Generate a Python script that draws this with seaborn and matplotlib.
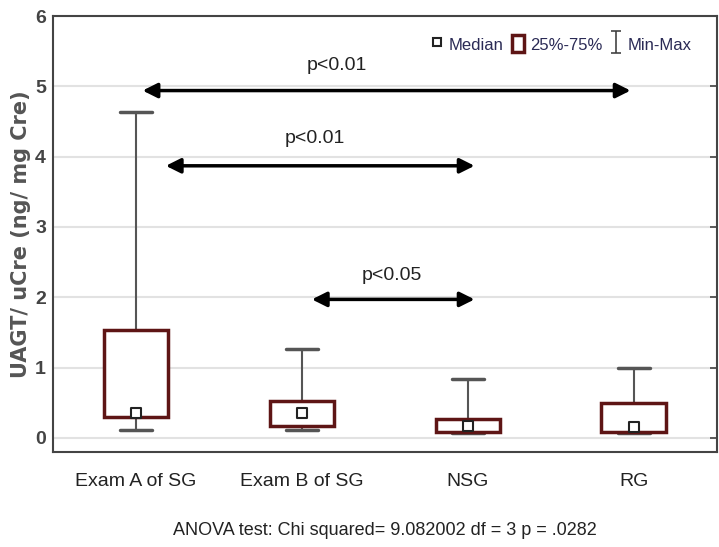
import matplotlib
matplotlib.use('Agg')
import matplotlib.pyplot as plt
from matplotlib.lines import Line2D
from matplotlib.patches import Rectangle
from matplotlib.path import Path
import numpy as np
import pandas as pd
import seaborn as sns


## data ##
groups = ['Exam A of SG', 'Exam B of SG', 'NSG', 'RG']
mins    = [0.11, 0.11, 0.07, 0.07]
q1s     = [0.30, 0.17, 0.09, 0.09]
medians = [0.36, 0.36, 0.17, 0.16]
q3s     = [1.54, 0.53, 0.27, 0.49]
maxs    = [4.64, 1.27, 0.84, 0.99]

# pairwise comparisons: arrow span, level, label and label position
comp_from  = [0.04, 0.18, 1.06]
comp_to    = [2.98, 2.04, 2.04]
comp_y     = [4.94, 3.87, 1.97]
comp_text  = ['p<0.01', 'p<0.01', 'p<0.05']
comp_tx    = [1.21, 1.08, 1.54]
comp_ty    = [5.29, 4.26, 2.31]

anova_text = 'ANOVA test: Chi squared= 9.082002 df = 3 p = .0282'


## plotting params ##
sns.set_style('white')
plt.rcParams['font.family'] = ['Liberation Sans', 'DejaVu Sans']
box_col = '#5e1515'
whisk_col = '#555555'

# five numbers per group -> percentiles of 5 points fall on them exactly
df = pd.DataFrame({
    'group': np.repeat(groups, 5),
    'value': np.ravel(np.column_stack([mins, q1s, medians, q3s, maxs])),
})

fig = plt.figure(figsize=(7.19, 5.47), dpi=100)
ax = fig.add_axes([0.0737, 0.1737, 0.9233, 0.797])

sns.boxplot(data=df, x='group', y='value', order=groups, whis=(0, 100),
            width=0.39, color='white', linecolor=box_col, linewidth=2.5,
            showfliers=False, ax=ax,
            boxprops={'edgecolor': box_col, 'linewidth': 2.5, 'zorder': 3},
            whiskerprops={'color': whisk_col, 'linewidth': 1.5, 'zorder': 2},
            capprops={'color': whisk_col, 'linewidth': 2.5, 'zorder': 2},
            medianprops={'linewidth': 0})

sns.stripplot(x=groups, y=medians, order=groups, jitter=False, marker='s',
              size=6.5, color='white', edgecolor='#222222', linewidth=1.5,
              zorder=5, ax=ax)

for x0, x1, y in zip(comp_from, comp_to, comp_y):
    ax.annotate('', xy=(x1, y), xytext=(x0, y),
                arrowprops=dict(arrowstyle='<|-|>', color='black', lw=2.5,
                                mutation_scale=22, shrinkA=0, shrinkB=0))
for t, tx, ty in zip(comp_text, comp_tx, comp_ty):
    ax.text(tx, ty, t, ha='center', va='center', fontsize=14, color='#222222')

ax.set_xlim(-0.5, 3.5)
ax.set_ylim(-0.2, 6.0)
ax.set_yticks(range(0, 7))
ax.yaxis.grid(True, color='#e2e2e2', linewidth=1.5)
ax.set_axisbelow(True)
for s in ax.spines.values():
    s.set_color('#444444')
    s.set_linewidth(1.5)
ax.tick_params(axis='both', direction='in', length=5, width=1.2, color='#444444')
ax.tick_params(axis='y', right=True, labelsize=14, labelcolor='#444444', pad=5)
ax.tick_params(axis='x', labelsize=14, labelcolor='#222222', pad=15)
for lab in ax.get_yticklabels():
    lab.set_fontweight('bold')

ax.set_ylabel('UAGT/ uCre (ng/ mg Cre)', fontsize=15, fontweight='bold',
              color='#555555', family=['DejaVu Sans'], labelpad=3)
ax.set_xlabel(anova_text, fontsize=13, color='#222222', labelpad=23)

# legend: median marker, box, min-max I-beam
ibeam = Path([(-0.45, 1), (0.45, 1), (0, 1), (0, -1), (-0.45, -1), (0.45, -1)],
             [Path.MOVETO, Path.LINETO, Path.MOVETO, Path.LINETO,
              Path.MOVETO, Path.LINETO])
handles = [
    Line2D([], [], linestyle='none', marker='s', markersize=6,
           markerfacecolor='white', markeredgecolor='#222222', markeredgewidth=1.5),
    Rectangle((0, 0), 1, 1, facecolor='white', edgecolor=box_col, linewidth=2.5),
    Line2D([], [], linestyle='none', marker=ibeam, markersize=16,
           color='#444444', markeredgewidth=1.2),
]
ax.legend(handles, ['Median', '25%-75%', 'Min-Max'], ncol=3, frameon=False,
          loc='upper right', bbox_to_anchor=(0.985, 0.99), fontsize=12,
          handlelength=0.7, handleheight=1.2, handletextpad=0.35,
          columnspacing=0.5, labelcolor='#2a2a55')

fig.savefig('out.png', dpi=100)
plt.close(fig)
